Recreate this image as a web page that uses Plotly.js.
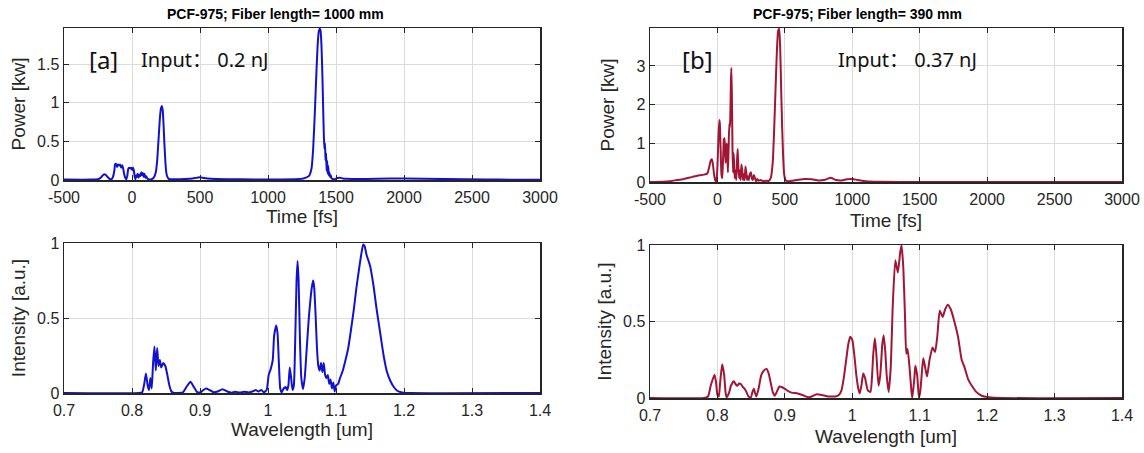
<!DOCTYPE html>
<html>
<head>
<meta charset="utf-8">
<script src="https://cdn.plot.ly/plotly-3.0.1.min.js"></script>
<style>html,body{margin:0;padding:0;background:#fff;}#chart{width:1144px;height:453px;}</style>
</head>
<body>
<div id="chart"></div>
<script>
// ---------- Panel [a] : time domain (fiber length 1000 mm, input 0.2 nJ) ----------
const timeA = [-500, -300, -250, -230, -215, -205, -195, -180, -165, -150,
  -140, -130, -125, -118, -110, -102, -95, -88, -80, -72,
  -65, -58, -50, -42, -35, -28, -20, -12, -5, 2,
  8, 14, 20, 25, 30, 36, 42, 48, 55, 62,
  68, 75, 80, 86, 92, 98, 105, 112, 120, 130,
  145, 160, 175, 185, 195, 205, 213, 220, 226, 232,
  238, 245, 252, 260, 270, 282, 300, 350, 420, 460,
  480, 500, 530, 580, 700, 900, 1100, 1200, 1260, 1300,
  1320, 1332, 1345, 1355, 1365, 1373, 1380, 1386, 1393, 1400,
  1406, 1411, 1415, 1419, 1423, 1427, 1431, 1435, 1439, 1443,
  1447, 1451, 1456, 1461, 1468, 1478, 1490, 1510, 1530, 1550,
  1580, 1650, 1800, 2000, 2300, 2600, 2800, 3000];
const powerA = [0.005, 0.005, 0.01, 0.03, 0.06, 0.075, 0.07, 0.04, 0.015, 0.01,
  0.04, 0.12, 0.2, 0.21, 0.17, 0.2, 0.19, 0.2, 0.16, 0.19,
  0.15, 0.08, 0.03, 0.01, 0.05, 0.14, 0.16, 0.15, 0.16, 0.13,
  0.16, 0.12, 0.04, 0.01, 0.06, 0.04, 0.08, 0.03, 0.07, 0.05,
  0.1, 0.06, 0.09, 0.04, 0.08, 0.03, 0.05, 0.02, 0.01, 0.005,
  0.01, 0.03, 0.1, 0.25, 0.52, 0.8, 0.93, 0.96, 0.9, 0.72,
  0.48, 0.25, 0.1, 0.04, 0.015, 0.01, 0.01, 0.01, 0.015, 0.025,
  0.03, 0.035, 0.025, 0.015, 0.01, 0.008, 0.008, 0.01, 0.02, 0.05,
  0.15, 0.4, 0.9, 1.35, 1.75, 1.92, 1.96, 1.94, 1.75, 1.35,
  0.9, 0.55, 0.4, 0.48, 0.25, 0.35, 0.12, 0.25, 0.08, 0.18,
  0.06, 0.1, 0.04, 0.06, 0.02, 0.01, 0.01, 0.025, 0.03, 0.02,
  0.015, 0.012, 0.015, 0.02, 0.012, 0.008, 0.004, 0.003];

// ---------- Panel [a] : spectrum ----------
const wlA = [0.7, 0.81, 0.815, 0.818, 0.8205, 0.823, 0.825, 0.827, 0.829, 0.831,
  0.833, 0.835, 0.837, 0.839, 0.841, 0.843, 0.846, 0.849, 0.852, 0.855,
  0.858, 0.862, 0.875, 0.88, 0.886, 0.891, 0.896, 0.901, 0.905, 0.909,
  0.914, 0.92, 0.926, 0.933, 0.94, 0.946, 0.952, 0.958, 0.965, 0.972,
  0.978, 0.982, 0.986, 0.99, 0.994, 0.998, 1.001, 1.004, 1.007, 1.009,
  1.012, 1.014, 1.016, 1.018, 1.02, 1.023, 1.026, 1.028, 1.03, 1.032,
  1.034, 1.036, 1.038, 1.04, 1.042, 1.0435, 1.045, 1.047, 1.049, 1.0515,
  1.054, 1.057, 1.06, 1.063, 1.065, 1.0665, 1.068, 1.07, 1.072, 1.074,
  1.076, 1.078, 1.08, 1.082, 1.084, 1.086, 1.088, 1.09, 1.092, 1.094,
  1.096, 1.098, 1.1, 1.103, 1.106, 1.11, 1.114, 1.118, 1.122, 1.126,
  1.13, 1.134, 1.137, 1.14, 1.142, 1.145, 1.15, 1.155, 1.16, 1.165,
  1.17, 1.175, 1.18, 1.185, 1.19, 1.197, 1.21, 1.4];
const intA = [0, 0, 0.005, 0.06, 0.13, 0.05, 0.02, 0.1, 0.03, 0.2,
  0.31, 0.15, 0.3, 0.18, 0.22, 0.17, 0.2, 0.18, 0.12, 0.05,
  0.01, 0, 0.005, 0.04, 0.075, 0.04, 0.005, 0.005, 0.02, 0.03,
  0.02, 0.005, 0.01, 0.025, 0.01, 0.002, 0.008, 0.003, 0.008, 0.004,
  0.012, 0.02, 0.01, 0.02, 0.005, 0.02, 0.12, 0.16, 0.22, 0.38,
  0.45, 0.4, 0.2, 0.03, 0.005, 0.03, 0.04, 0.02, 0.05, 0.17,
  0.1, 0.02, 0.05, 0.35, 0.75, 0.88, 0.75, 0.35, 0.1, 0.025,
  0.1, 0.3, 0.5, 0.65, 0.72, 0.75, 0.7, 0.52, 0.3, 0.18,
  0.15, 0.2, 0.14, 0.2, 0.12, 0.1, 0.12, 0.06, 0.09, 0.03,
  0.07, 0.01, 0.05, 0.06, 0.1, 0.15, 0.22, 0.3, 0.42, 0.55,
  0.7, 0.83, 0.92, 0.99, 0.98, 0.92, 0.85, 0.72, 0.55, 0.4,
  0.25, 0.14, 0.08, 0.04, 0.015, 0.004, 0, 0];

// ---------- Panel [b] : time domain (fiber length 390 mm, input 0.37 nJ) ----------
const timeB = [-500, -400, -350, -300, -250, -200, -150, -100, -75, -60,
  -50, -42, -35, -25, -15, -8, 0, 8, 14, 18,
  24, 30, 36, 42, 48, 52, 56, 60, 64, 69,
  74, 78, 83, 88, 91, 95, 100, 103, 107, 112,
  116, 120, 124, 128, 134, 140, 146, 150, 154, 160,
  166, 172, 178, 184, 190, 196, 202, 208, 214, 220,
  226, 232, 240, 248, 255, 262, 270, 278, 286, 295,
  305, 320, 340, 360, 380, 395, 410, 420, 430, 440,
  450, 458, 465, 472, 480, 488, 495, 505, 520, 550,
  600, 650, 700, 750, 800, 840, 880, 920, 960, 1000,
  1040, 1100, 1200, 1500, 3000];
const powerB = [0, 0.005, 0.02, 0.05, 0.08, 0.12, 0.16, 0.19, 0.22, 0.4,
  0.55, 0.59, 0.5, 0.2, 0.03, 0.02, 0.4, 1.2, 1.6, 1.5,
  0.8, 0.2, 0.1, 0.6, 1.1, 1.13, 0.9, 0.5, 0.7, 1.0,
  0.6, 0.25, 0.9, 1.5, 1.4, 1.6, 2.6, 2.95, 2.3, 0.8,
  0.25, 0.75, 0.5, 0.1, 0.3, 0.05, 0.6, 0.85, 0.5, 0.1,
  0.3, 0.05, 0.45, 0.3, 0.05, 0.2, 0.05, 0.4, 0.25, 0.05,
  0.15, 0.05, 0.2, 0.25, 0.1, 0.05, 0.18, 0.1, 0.02, 0.08,
  0.03, 0.05, 0.02, 0.03, 0.03, 0.1, 0.5, 1.3, 2.3, 3.3,
  3.9, 3.96, 3.5, 2.5, 1.4, 0.6, 0.2, 0.05, 0.02, 0.03,
  0.06, 0.08, 0.07, 0.04, 0.06, 0.11, 0.05, 0.04, 0.07, 0.08,
  0.05, 0.02, 0.005, 0.002, 0];

// ---------- Panel [b] : spectrum ----------
const wlB = [0.7, 0.78, 0.786, 0.79, 0.7957, 0.798, 0.8, 0.802, 0.804, 0.807,
  0.81, 0.812, 0.8135, 0.817, 0.82, 0.8243, 0.827, 0.8297, 0.832, 0.835,
  0.838, 0.8405, 0.843, 0.846, 0.8497, 0.852, 0.854, 0.856, 0.8578, 0.861,
  0.865, 0.869, 0.873, 0.876, 0.879, 0.882, 0.885, 0.888, 0.892, 0.896,
  0.9, 0.905, 0.91, 0.919, 0.926, 0.935, 0.94, 0.947, 0.955, 0.962,
  0.968, 0.975, 0.98, 0.984, 0.988, 0.991, 0.994, 0.997, 1.0, 1.003,
  1.006, 1.009, 1.011, 1.0135, 1.0162, 1.019, 1.023, 1.027, 1.029, 1.031,
  1.0335, 1.0355, 1.0389, 1.0415, 1.0445, 1.0465, 1.049, 1.051, 1.054, 1.057,
  1.06, 1.0638, 1.0676, 1.071, 1.073, 1.0757, 1.0784, 1.08, 1.082, 1.0849,
  1.0876, 1.089, 1.0919, 1.0935, 1.0962, 1.0989, 1.101, 1.1038, 1.1054, 1.1081,
  1.1108, 1.1146, 1.119, 1.1227, 1.126, 1.1297, 1.134, 1.1378, 1.1416, 1.146,
  1.1514, 1.1568, 1.1622, 1.1665, 1.172, 1.1773, 1.1838, 1.1919, 1.2027, 1.2216,
  1.4];
const intB = [0, 0, 0.01, 0.08, 0.152, 0.1, 0.02, 0.01, 0.1, 0.22,
  0.15, 0.04, 0.005, 0.03, 0.08, 0.11, 0.09, 0.08, 0.095, 0.09,
  0.07, 0.06, 0.04, 0.01, 0.005, 0.04, 0.06, 0.03, 0.01, 0.06,
  0.15, 0.18, 0.19, 0.16, 0.1, 0.04, 0.015, 0.04, 0.075, 0.07,
  0.06, 0.045, 0.035, 0.03, 0.02, 0.005, 0.01, 0.025, 0.02, 0.012,
  0.01, 0.01, 0.02, 0.05, 0.15, 0.25, 0.35, 0.4, 0.38, 0.28,
  0.15, 0.06, 0.03, 0.08, 0.16, 0.13, 0.05, 0.04, 0.12, 0.28,
  0.39, 0.3, 0.08, 0.15, 0.35, 0.41, 0.3, 0.15, 0.04, 0.2,
  0.6, 0.9, 0.82, 0.95, 1.0, 0.85, 0.5, 0.29, 0.32, 0.2,
  0.05, 0.0, 0.12, 0.21, 0.15, 0.0, 0.05, 0.2, 0.26, 0.2,
  0.14, 0.25, 0.33, 0.3, 0.4, 0.57, 0.53, 0.58, 0.61, 0.58,
  0.5, 0.4, 0.25, 0.2, 0.12, 0.08, 0.04, 0.015, 0.005, 0,
  0];

// ---------- Ticks ----------
const timeTicks = [-500, 0, 500, 1000, 1500, 2000, 2500, 3000];
const timeTickText = ['-500', '0', '500', '1000', '1500', '2000', '2500', '3000'];
const wlTicks = [0.7, 0.8, 0.9, 1.0, 1.1, 1.2, 1.3, 1.4];
const wlTickText = ['0.7', '0.8', '0.9', '1', '1.1', '1.2', '1.3', '1.4'];
const powerTicksA = [0, 0.5, 1, 1.5];
const powerTicksB = [0, 1, 2, 3];
const intTicks = [0, 0.5, 1];

const blue = 'rgb(18,18,205)';
const red = 'rgb(160,22,52)';
const W = 1144, H = 453;
const px = v => v / W;
const py = v => 1 - v / H;

function line(x, y, color, xa, ya) {
  return {x: x, y: y, type: 'scatter', mode: 'lines', xaxis: xa, yaxis: ya,
    line: {color: color, width: 2, shape: 'spline', smoothing: 0.5}, hoverinfo: 'x+y'};
}

const data = [
  line(timeA, powerA, blue, 'x', 'y'),
  line(wlA, intA, blue, 'x2', 'y2'),
  line(timeB, powerB, red, 'x3', 'y3'),
  line(wlB, intB, red, 'x4', 'y4')
];

const tickFont = {family: 'Liberation Sans, Arial, sans-serif', size: 16, color: '#262626'};
const titleFont = {family: 'Liberation Sans, Arial, sans-serif', size: 19, color: '#262626'};

function ax(extra) {
  return Object.assign({
    showline: true, linecolor: '#262626', linewidth: 1.5, mirror: 'allticks',
    ticks: 'inside', ticklen: 5, tickwidth: 1, tickcolor: '#262626',
    showgrid: true, gridcolor: '#dcdcdc', gridwidth: 1, zeroline: false,
    tickfont: tickFont, automargin: false, fixedrange: true
  }, extra);
}

const L0 = 64, L1 = 540, R0 = 650, R1 = 1122;

const layout = {
  width: W, height: H,
  margin: {l: 0, r: 0, t: 0, b: 0},
  paper_bgcolor: '#fff', plot_bgcolor: '#fff',
  showlegend: false,
  xaxis: ax({domain: [px(L0), px(L1)], anchor: 'y', range: [-500, 3000], tickvals: timeTicks, ticktext: timeTickText,
    ticklabelstandoff: 2, title: {text: 'Time [fs]', font: titleFont, standoff: 5}}),
  yaxis: ax({domain: [py(180), py(28)], anchor: 'x', range: [0, 1.97], tickvals: powerTicksA, ticktext: ['0', '0.5', '1', '1.5'],
    title: {text: 'Power [kw]', font: titleFont, standoff: 6}}),
  xaxis2: ax({domain: [px(L0), px(L1)], anchor: 'y2', range: [0.7, 1.4], tickvals: wlTicks, ticktext: wlTickText,
    ticklabelstandoff: 2, title: {text: 'Wavelength [um]', font: titleFont, standoff: 5}}),
  yaxis2: ax({domain: [py(393), py(243)], anchor: 'x2', range: [0, 1], tickvals: intTicks, ticktext: ['0', '0.5', '1'],
    title: {text: 'Intensity [a.u.]', font: titleFont, standoff: 6}}),
  xaxis3: ax({domain: [px(R0), px(R1)], anchor: 'y3', range: [-500, 3000], tickvals: timeTicks, ticktext: timeTickText,
    ticklabelstandoff: 2, title: {text: 'Time [fs]', font: titleFont, standoff: 7}}),
  yaxis3: ax({domain: [py(182), py(28)], anchor: 'x3', range: [0, 3.98], tickvals: powerTicksB, ticktext: ['0', '1', '2', '3'],
    title: {text: 'Power [kw]', font: titleFont, standoff: 16}}),
  xaxis4: ax({domain: [px(R0), px(R1)], anchor: 'y4', range: [0.7, 1.4], tickvals: wlTicks, ticktext: wlTickText,
    ticklabelstandoff: 2, title: {text: 'Wavelength [um]', font: titleFont, standoff: 7}}),
  yaxis4: ax({domain: [py(398), py(245)], anchor: 'x4', range: [0, 1], tickvals: intTicks, ticktext: ['0', '0.5', '1'],
    title: {text: 'Intensity [a.u.]', font: titleFont, standoff: 6}}),
  annotations: [
    {text: '<b>PCF-975; Fiber length= 1000 mm</b>', xref: 'paper', yref: 'paper', x: px(275), y: py(14),
      xanchor: 'center', yanchor: 'middle', showarrow: false, font: {family: 'Liberation Sans, Arial, sans-serif', size: 14, color: '#000'}},
    {text: '<b>PCF-975; Fiber length= 390 mm</b>', xref: 'paper', yref: 'paper', x: px(857), y: py(14),
      xanchor: 'center', yanchor: 'middle', showarrow: false, font: {family: 'Liberation Sans, Arial, sans-serif', size: 14, color: '#000'}},
    {text: '[a]', xref: 'paper', yref: 'paper', x: px(87), y: py(59), xanchor: 'left', yanchor: 'middle', showarrow: false,
      font: {family: 'Noto Sans, sans-serif', size: 24, color: '#111'}},
    {text: 'Input： 0.2 nJ', xref: 'paper', yref: 'paper', x: px(139), y: py(59), xanchor: 'left', yanchor: 'middle', showarrow: false,
      font: {family: 'Noto Sans, Noto Sans CJK SC, sans-serif', size: 20, color: '#111'}},
    {text: '[b]', xref: 'paper', yref: 'paper', x: px(680), y: py(59), xanchor: 'left', yanchor: 'middle', showarrow: false,
      font: {family: 'Noto Sans, sans-serif', size: 24, color: '#111'}},
    {text: 'Input： 0.37 nJ', xref: 'paper', yref: 'paper', x: px(836), y: py(59), xanchor: 'left', yanchor: 'middle', showarrow: false,
      font: {family: 'Noto Sans, Noto Sans CJK SC, sans-serif', size: 20, color: '#111'}}
  ]
};

Plotly.newPlot('chart', data, layout, {displayModeBar: false, staticPlot: true});
</script>
</body>
</html>
